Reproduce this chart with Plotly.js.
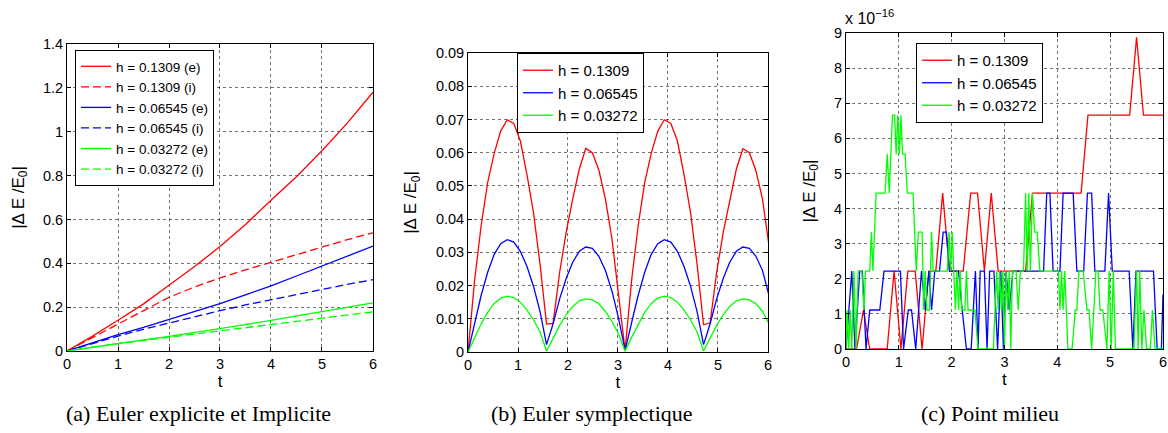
<!DOCTYPE html>
<html>
<head>
<meta charset="utf-8">
<script src="https://cdn.plot.ly/plotly-3.0.1.min.js"></script>
<style>html,body{margin:0;padding:0;background:#fff;}#chart{width:1168px;height:433px;}</style>
</head>
<body>
<div id="chart"></div>
<script>
// ---------- Panel (a): Euler explicite et implicite ----------
const tA = [0, 0.5, 1, 1.5, 2, 2.5, 3, 3.5, 4, 4.5, 5, 5.5, 6];
const aRedE   = [0, 0.068, 0.14, 0.215, 0.30, 0.385, 0.476, 0.577, 0.687, 0.795, 0.913, 1.04, 1.18];
const aRedI   = [0, 0.062, 0.122, 0.186, 0.245, 0.292, 0.333, 0.37, 0.405, 0.441, 0.475, 0.508, 0.539];
const aBlueE  = [0, 0.037, 0.075, 0.108, 0.143, 0.179, 0.216, 0.256, 0.297, 0.342, 0.388, 0.433, 0.478];
const aBlueI  = [0, 0.035, 0.068, 0.099, 0.128, 0.157, 0.184, 0.21, 0.234, 0.258, 0.282, 0.304, 0.325];
const aGreenE = [0, 0.018, 0.035, 0.051, 0.067, 0.084, 0.101, 0.12, 0.14, 0.159, 0.178, 0.198, 0.219];
const aGreenI = [0, 0.018, 0.034, 0.048, 0.062, 0.076, 0.09, 0.105, 0.12, 0.135, 0.15, 0.165, 0.178];
const namesA = ["h = 0.1309 (e)", "h = 0.1309 (i)", "h = 0.06545 (e)", "h = 0.06545 (i)", "h = 0.03272 (e)", "h = 0.03272 (i)"];

// ---------- Panel (b): Euler symplectique ----------
const tB = [0, 0.131, 0.262, 0.393, 0.524, 0.654, 0.785, 0.916, 1.047, 1.178, 1.309, 1.440, 1.571,
  1.702, 1.833, 1.963, 2.094, 2.225, 2.356, 2.487, 2.618, 2.749, 2.880, 3.011, 3.142,
  3.272, 3.403, 3.534, 3.665, 3.796, 3.927, 4.058, 4.189, 4.320, 4.451, 4.581, 4.712,
  4.843, 4.974, 5.105, 5.236, 5.367, 5.498, 5.629, 5.760, 5.891, 6.021];
const bRed = [0, 0.0215, 0.038, 0.051, 0.0598, 0.0665, 0.0699, 0.0688, 0.0635, 0.0535, 0.042, 0.0265, 0.0084,
  0.0086, 0.024, 0.036, 0.046, 0.055, 0.0613, 0.060, 0.0547, 0.046, 0.034, 0.018, 0.0005,
  0.0215, 0.038, 0.051, 0.0598, 0.0665, 0.0699, 0.0688, 0.0635, 0.0535, 0.042, 0.0265, 0.0082,
  0.0088, 0.024, 0.036, 0.046, 0.055, 0.0612, 0.060, 0.0545, 0.046, 0.032];
const bBlue = [0, 0.0088, 0.017, 0.024, 0.0294, 0.0326, 0.0338, 0.0331, 0.0303, 0.0258, 0.0198, 0.0122, 0.0022,
  0.0085, 0.016, 0.0221, 0.027, 0.0303, 0.0316, 0.0312, 0.0288, 0.0245, 0.0183, 0.0102, 0.0005,
  0.0088, 0.017, 0.024, 0.0294, 0.0326, 0.0338, 0.0331, 0.0303, 0.0258, 0.0198, 0.0122, 0.0022,
  0.0085, 0.016, 0.0221, 0.027, 0.0303, 0.0316, 0.0312, 0.0288, 0.0245, 0.017];
const bGreen = [0, 0.0044, 0.0084, 0.0119, 0.0146, 0.0162, 0.0168, 0.0164, 0.015, 0.0127, 0.0097, 0.006, 0.0003,
  0.0041, 0.008, 0.0112, 0.0137, 0.0154, 0.016, 0.0157, 0.0145, 0.0122, 0.0092, 0.0054, 0.0002,
  0.0044, 0.0084, 0.0119, 0.0146, 0.0162, 0.0168, 0.0164, 0.015, 0.0127, 0.0097, 0.006, 0.0003,
  0.0041, 0.008, 0.0112, 0.0137, 0.0154, 0.016, 0.0157, 0.0145, 0.0122, 0.0085];
const namesB = ["h = 0.1309", "h = 0.06545", "h = 0.03272"];

// ---------- Panel (c): Point milieu (values in units of 1e-16) ----------
const tCRed = [0, 0.2, 0.33, 0.45, 0.78, 0.91, 1.04, 1.17, 1.31, 1.44, 1.57, 1.70, 1.83, 1.96, 2.22, 2.36, 2.49, 2.62, 2.75, 2.88, 3.40, 3.53, 4.45, 4.58, 5.37, 5.50, 5.63, 6.0];
const cRed  = [0, 0, 1.11, 0, 0, 2.22, 0, 2.22, 2.22, 0, 2.22, 2.22, 4.44, 2.22, 2.22, 4.44, 4.44, 2.22, 4.44, 2.22, 2.22, 4.44, 4.44, 6.66, 6.66, 8.88, 6.66, 6.66];
const tCBlue = [0, 0.11, 0.17, 0.26, 0.31, 0.38, 0.45, 0.64, 0.72, 1.03, 1.09, 1.18, 1.24, 1.32, 1.43, 1.5, 1.57, 1.62, 1.68, 1.77, 1.84, 1.9, 1.96, 2.13, 2.2, 2.28, 2.37, 2.45, 2.5, 2.54, 2.62, 2.67, 2.72, 2.8, 2.87, 2.93, 2.98, 3.03, 3.09, 3.16, 3.74, 3.8, 3.86, 3.92, 4.05, 4.11, 4.3, 4.37, 4.5, 4.57, 4.65, 4.71, 4.9, 4.97, 5.04, 5.36, 5.43, 5.49, 5.82, 5.89, 5.97, 6.0];
const cBlue  = [0, 2.22, 0, 2.22, 2.22, 0, 1.11, 1.11, 2.22, 2.22, 0, 1.11, 1.11, 0, 2.22, 1.11, 2.22, 1.11, 2.22, 2.22, 3.33, 3.33, 2.22, 2.22, 1.11, 0, 0, 2.22, 0, 2.22, 2.22, 0, 2.22, 2.22, 0, 2.22, 0, 2.22, 1.11, 2.22, 2.22, 4.44, 4.44, 2.22, 2.22, 4.44, 4.44, 2.22, 2.22, 4.44, 4.44, 2.22, 2.22, 4.44, 2.22, 2.22, 0, 2.22, 2.22, 0, 0, 1.55];
const tCGreen = [0, 0.02, 0.05, 0.08, 0.11, 0.15, 0.19, 0.23, 0.3, 0.34, 0.37, 0.45, 0.48, 0.51, 0.57, 0.74, 0.78, 0.82, 0.88, 0.92, 0.95, 0.98, 1.01, 1.04, 1.07, 1.12, 1.16, 1.27, 1.33, 1.37, 1.44, 1.47, 1.5, 1.53, 1.58, 1.62, 1.65, 1.92, 1.95, 1.98, 2.01, 2.04, 2.07, 2.1, 2.13, 2.16, 2.19, 2.25, 2.28, 2.31, 2.44, 2.5, 2.79, 2.85, 2.88, 2.91, 2.94, 2.97, 3.0, 3.03, 3.06, 3.09, 3.12, 3.15, 3.22, 3.26, 3.3, 3.36, 3.4, 3.43, 3.46, 3.49, 3.53, 3.57, 3.62, 3.67, 4.02, 4.05, 4.08, 4.11, 4.14, 4.2, 4.28, 4.34, 4.37, 4.41, 4.49, 4.56, 4.6, 4.65, 4.73, 4.77, 4.81, 4.86, 4.94, 4.98, 5.02, 5.06, 5.1, 5.45, 5.5, 5.53, 5.56, 5.6, 5.64, 5.69, 5.76, 5.8, 5.85, 6.0];
const cGreen  = [0, 1.11, 0, 1.11, 0, 2.22, 0, 2.22, 2.22, 1.11, 2.22, 2.22, 3.33, 2.22, 4.44, 4.44, 5.55, 4.44, 6.66, 6.66, 5.55, 6.66, 5.55, 6.66, 5.55, 5.55, 4.44, 4.44, 2.22, 3.33, 3.33, 1.11, 2.22, 1.11, 1.11, 3.33, 2.22, 2.22, 3.33, 2.22, 3.33, 2.22, 1.11, 2.22, 1.11, 2.22, 1.11, 1.11, 2.22, 1.11, 1.11, 0, 0, 2.22, 1.11, 2.22, 1.11, 2.22, 0, 2.22, 1.11, 2.22, 0, 2.22, 2.22, 1.11, 2.22, 2.22, 4.44, 2.22, 4.44, 2.22, 4.44, 3.33, 3.33, 2.22, 2.22, 1.11, 2.22, 1.11, 2.22, 0, 0, 1.11, 1.11, 2.22, 2.22, 1.11, 1.11, 0, 2.22, 2.22, 1.11, 1.11, 0, 2.22, 0, 2.22, 0, 0, 2.22, 0, 2.22, 0, 1.11, 0, 0, 1.11, 0, 0];
const namesC = ["h = 0.1309", "h = 0.06545", "h = 0.03272"];

// ---------- Captions / labels ----------
const captions = ["(a) Euler explicite et Implicite", "(b) Euler symplectique", "(c) Point milieu"];
const yTitle = "|\u0394 E /E<sub>0</sub>|";
const xTitle = "t";

const RED = "#ff0000", BLUE = "#0000ff", GREEN = "#00ff00";
const LW = 1.3;
const FONT = "Liberation Sans, Arial, sans-serif";
const SERIF = "Liberation Serif, Times New Roman, serif";
const DASH = "8px,4px";

function tr(x, y, name, color, dash, xa, ya, leg) {
  return {x: x, y: y, name: name, type: "scatter", mode: "lines",
    line: {color: color, width: LW, dash: dash},
    xaxis: xa, yaxis: ya, legend: leg};
}

const data = [
  tr(tA, aRedE, namesA[0], RED, "solid", "x", "y", "legend"),
  tr(tA, aRedI, namesA[1], RED, DASH, "x", "y", "legend"),
  tr(tA, aBlueE, namesA[2], BLUE, "solid", "x", "y", "legend"),
  tr(tA, aBlueI, namesA[3], BLUE, DASH, "x", "y", "legend"),
  tr(tA, aGreenE, namesA[4], GREEN, "solid", "x", "y", "legend"),
  tr(tA, aGreenI, namesA[5], GREEN, DASH, "x", "y", "legend"),
  tr(tB, bRed, namesB[0], RED, "solid", "x2", "y2", "legend2"),
  tr(tB, bBlue, namesB[1], BLUE, "solid", "x2", "y2", "legend2"),
  tr(tB, bGreen, namesB[2], GREEN, "solid", "x2", "y2", "legend2"),
  tr(tCRed, cRed, namesC[0], RED, "solid", "x3", "y3", "legend3"),
  tr(tCBlue, cBlue, namesC[1], BLUE, "solid", "x3", "y3", "legend3"),
  tr(tCGreen, cGreen, namesC[2], GREEN, "solid", "x3", "y3", "legend3")
];

function xax(dom, anchor) {
  return {domain: dom, anchor: anchor, range: [0, 6], dtick: 1, tick0: 0,
    showline: true, mirror: "ticks", linecolor: "#000", linewidth: 1,
    ticks: "inside", ticklen: 4, tickcolor: "#000",
    showgrid: true, gridcolor: "rgba(0,0,0,0.55)", griddash: "dot", gridwidth: 1,
    zeroline: false, tickfont: {family: FONT, size: 14.5, color: "#000"},
    title: {text: xTitle, font: {family: FONT, size: 17, color: "#000"}, standoff: 3}};
}
function yax(dom, anchor, range, dtick) {
  return {domain: dom, anchor: anchor, range: range, dtick: dtick, tick0: 0,
    showline: true, mirror: "ticks", linecolor: "#000", linewidth: 1,
    ticks: "inside", ticklen: 4, tickcolor: "#000",
    showgrid: true, gridcolor: "rgba(0,0,0,0.55)", griddash: "dot", gridwidth: 1,
    zeroline: false, tickfont: {family: FONT, size: 14.5, color: "#000"},
    title: {text: yTitle, font: {family: FONT, size: 17, color: "#000"}, standoff: 14}};
}
function leg(x, y, size) {
  return {x: x, y: y, xanchor: "left", yanchor: "top", xref: "paper", yref: "paper",
    bgcolor: "#fff", bordercolor: "#000", borderwidth: 1,
    font: {family: FONT, size: size, color: "#000"}, tracegroupgap: 0};
}
function caption(text, xc) {
  return {text: text, x: xc / 1168, y: 1 - 413 / 433, xref: "paper", yref: "paper",
    xanchor: "center", yanchor: "middle", showarrow: false,
    font: {family: SERIF, size: 22, color: "#000"}};
}

const layout = {
  width: 1168, height: 433,
  margin: {l: 0, r: 0, t: 0, b: 0},
  paper_bgcolor: "#fff", plot_bgcolor: "#fff",
  showlegend: true,
  xaxis: xax([0.0574, 0.3193], "y"),
  yaxis: yax([0.1894, 0.8984], "x", [0, 1.4], 0.2),
  xaxis2: xax([0.4007, 0.6575], "y2"),
  yaxis2: yax([0.1871, 0.8776], "x2", [0, 0.09], 0.01),
  xaxis3: xax([0.7243, 0.9957], "y3"),
  yaxis3: yax([0.194, 0.9238], "x3", [0, 9], 1),
  legend: leg(0.0642, 0.8845, 13.5),
  legend2: leg(0.4426, 0.8776, 15),
  legend3: leg(0.7842, 0.9007, 15),
  annotations: [
    caption(captions[0], 198),
    caption(captions[1], 592),
    caption(captions[2], 990),
    {text: "x 10<sup>\u221216</sup>", x: 843 / 1168, y: 1 - 17 / 433, xref: "paper", yref: "paper",
      xanchor: "left", yanchor: "middle", showarrow: false,
      font: {family: FONT, size: 16, color: "#000"}}
  ]
};

Plotly.newPlot("chart", data, layout, {displayModeBar: false, staticPlot: true});
</script>
</body>
</html>
